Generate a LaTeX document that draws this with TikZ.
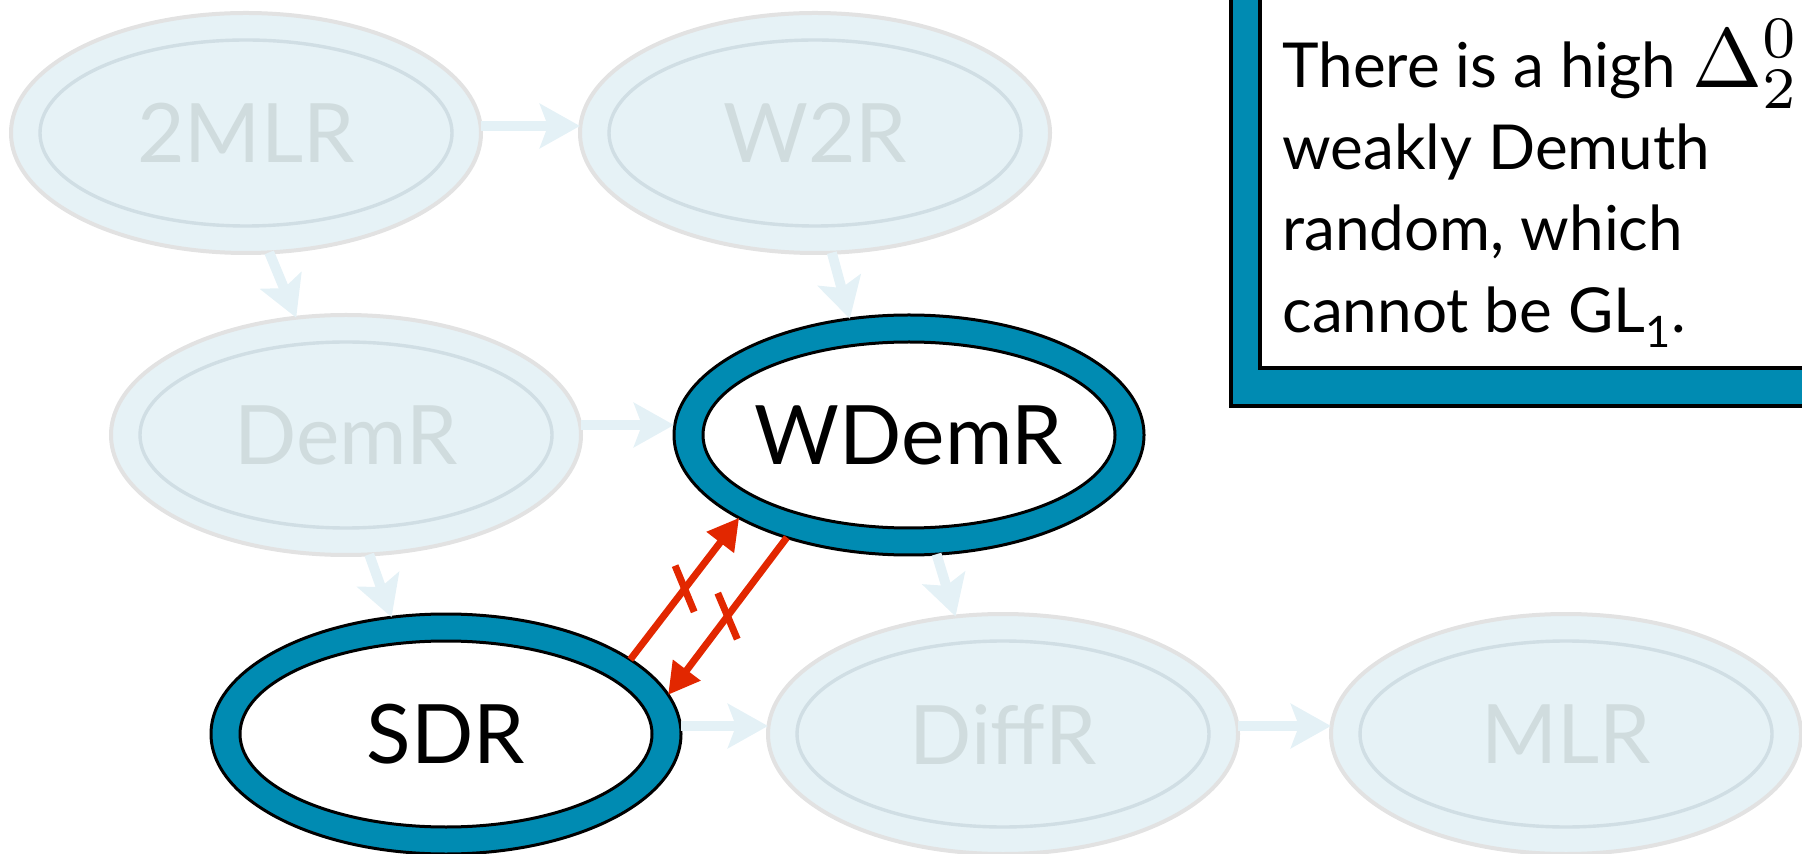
\documentclass[tikz,border=0pt]{standalone}
\usepackage[no-math]{fontspec}
\setmainfont{Lato}
\usetikzlibrary{arrows.meta,shapes.geometric,decorations.markings}
\definecolor{hiteal}{RGB}{0,139,178}
\definecolor{fadefill}{RGB}{230,242,246}
\definecolor{fadeout}{RGB}{226,226,226}
\definecolor{fadein}{RGB}{208,222,228}
\definecolor{fadetext}{RGB}{208,220,222}
\definecolor{fadearrowc}{RGB}{228,241,246}
\definecolor{redc}{RGB}{226,39,0}
\begin{document}
\begin{tikzpicture}[x=0.5pt,y=-0.5pt,
  labelfont/.style={font=\fontsize{41}{45}\selectfont},
  faded/.style={ellipse, minimum width=235pt, minimum height=120pt, inner sep=0pt, outer sep=0pt,
    draw=fadeout, line width=2pt, fill=fadefill, text=fadetext, labelfont,
    path picture={\draw[draw=fadein, line width=1.7pt] (path picture bounding box.center) ellipse [x radius=103pt, y radius=46.5pt];}},
  hilite/.style={ellipse, minimum width=235pt, minimum height=120pt, inner sep=0pt, outer sep=0pt,
    draw=black, line width=1.5pt, fill=hiteal, text=black, labelfont,
    path picture={\draw[black, line width=1.5pt, fill=white] (path picture bounding box.center) ellipse [x radius=103pt, y radius=46.5pt];}},
  fadearrow/.style={draw=fadearrowc, line width=5pt, -{Stealth[length=20pt,width=22pt,inset=4pt]}},
  notarrow/.style={draw=redc, line width=3.5pt, -{Triangle[length=15.5pt,width=16.5pt]},
    postaction={decorate},
    decoration={markings, mark=at position 0.5 with {\draw[-, redc, line width=3.5pt] (60:12.5pt) -- (240:12.5pt);}}},
  notetext/.style={anchor=base west, inner sep=0pt, font=\fontsize{31}{40}\selectfont}
]
\useasboundingbox (0,0) rectangle (1802,854);
\clip (0,0) rectangle (1802,854);

% faded nodes
\node[faded] (mlrtwo) at (246,133) {2MLR};
\node[faded] (wtwor) at (815,133) {W2R};
\node[faded] (demr) at (346,435) {DemR};
\node[faded] (diffr) at (1003,734) {DiffR};
\node[faded] (mlr) at (1566,734) {MLR};

% highlighted nodes
\node[hilite] (wdemr) at (909,435) {WDemR};
\node[hilite] (sdr) at (446,734) {SDR};

% faded arrows
\draw[fadearrow] ([yshift=3.5pt]mlrtwo.east) -- ([yshift=3.5pt]wtwor.west);
\draw[fadearrow] (mlrtwo.-79.4) -- (demr.113.4);
\draw[fadearrow] (wtwor.-82.7) -- (wdemr.117);
\draw[fadearrow] ([yshift=5pt]demr.east) -- ([yshift=5pt]wdemr.west);
\draw[fadearrow] (demr.-79.4) -- (sdr.115);
\draw[fadearrow] (wdemr.-77.3) -- (diffr.112.7);
\draw[fadearrow] ([yshift=4pt]sdr.east) -- ([yshift=4pt]diffr.west);
\draw[fadearrow] ([yshift=4pt]diffr.east) -- ([yshift=4pt]mlr.west);

% red non-implication arrows
\draw[notarrow] (sdr.22.4) -- (wdemr.206.4);
\draw[notarrow] (wdemr.220.3) -- (sdr.10.4);

% note box
\draw[line width=2pt, fill=hiteal] (1231,-20) rectangle (1850,406);
\draw[line width=2pt, fill=white] (1260,-20) rectangle (1850,368);
\node[notetext] (line1) at (1282,88) {There is a high\hspace{8pt}{\fontsize{10}{12}\selectfont\scalebox{4.2}{$\Delta^0_2$}}};
\node[notetext] (line2) at (1282,170) {weakly Demuth};
\node[notetext] (line3) at (1282,251) {random, which};
\node[notetext] (line4) at (1282,333) {cannot be GL\textsubscript{1}.};
\end{tikzpicture}
\end{document}
